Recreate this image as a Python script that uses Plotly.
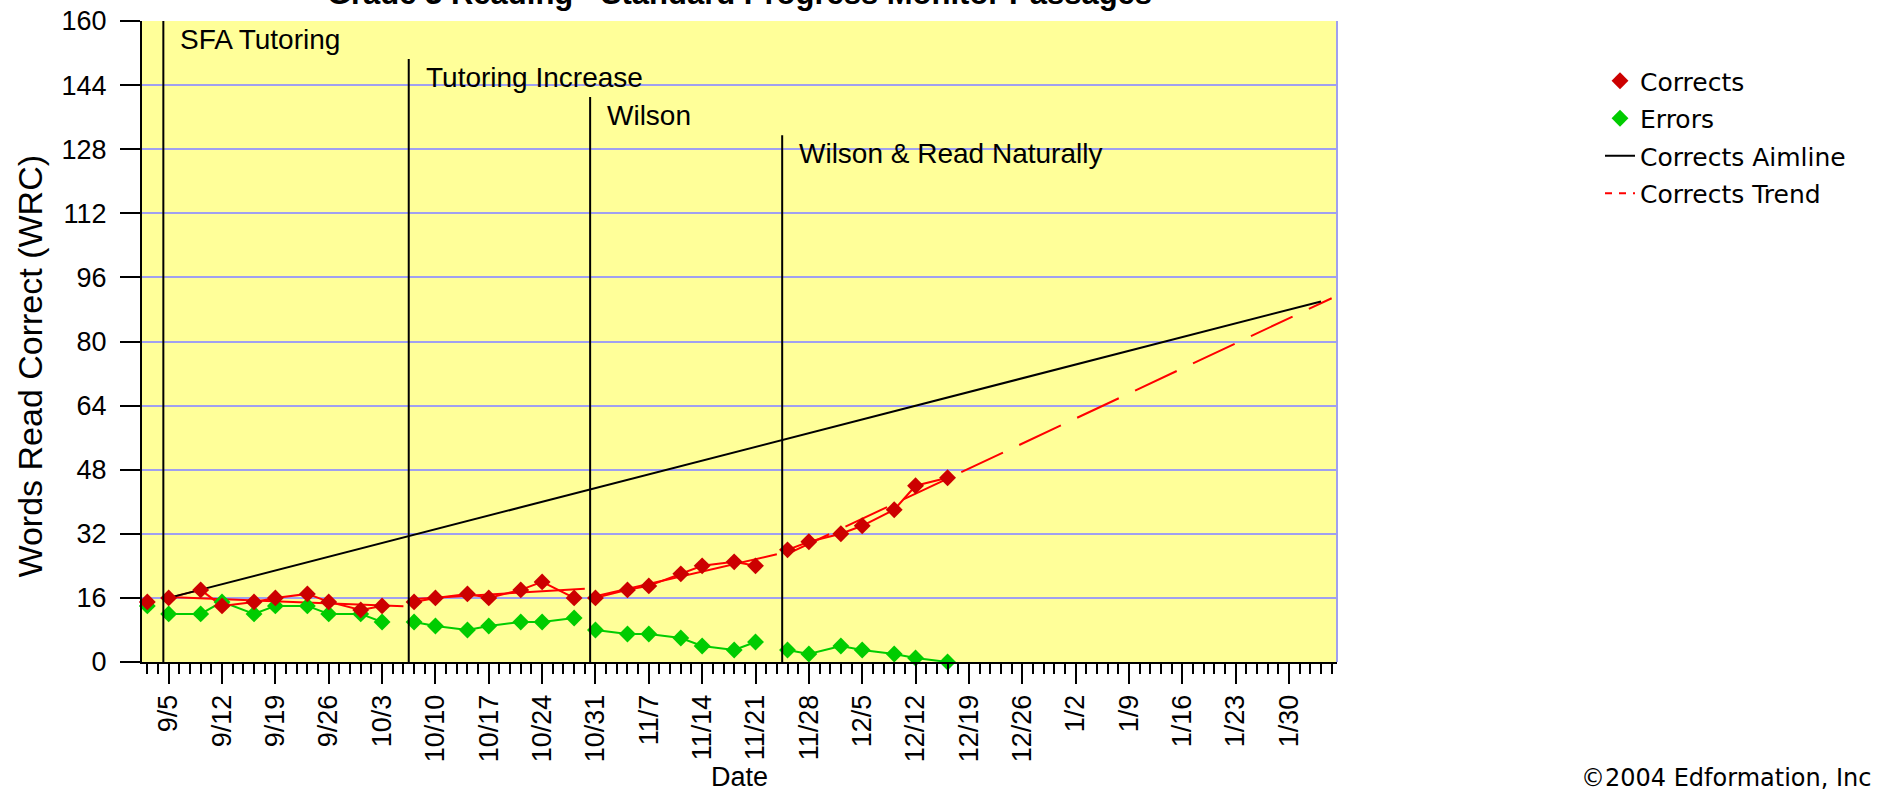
import pandas as pd
import plotly.graph_objects as go

# ---------------- data ----------------
title_text = "Grade 3 Reading - Standard Progress Monitor Passages"
y_title = "Words Read Correct (WRC)"
x_title = "Date"
copyright_text = "©2004 Edformation, Inc"

probe_dates = ["2005-09-01", "2005-09-05", "2005-09-08", "2005-09-12", "2005-09-15",
               "2005-09-19", "2005-09-22", "2005-09-26", "2005-09-29", "2005-10-03",
               "2005-10-06", "2005-10-10", "2005-10-13", "2005-10-17", "2005-10-20",
               "2005-10-24", "2005-10-27", "2005-10-31", "2005-11-03", "2005-11-07",
               "2005-11-10", "2005-11-14", "2005-11-17", "2005-11-21", "2005-11-24",
               "2005-11-28", "2005-12-01", "2005-12-05", "2005-12-08", "2005-12-12",
               "2005-12-15"]
corrects = [15, 16, 18, 14, 15, 16, 17, 15, 13, 14,
            15, 16, 17, 16, 18, 20, 16,
            16, 18, 19, 22, 24, 25, 24,
            28, 30, 32, 34, 38, 44, 46]
errors = [14, 12, 12, 15, 12, 14, 14, 12, 12, 10,
          10, 9, 8, 9, 10, 10, 11,
          8, 7, 7, 6, 4, 3, 5,
          3, 2, 4, 3, 2, 1, 0]

phase_names = ["SFA Tutoring", "Tutoring Increase", "Wilson", "Wilson & Read Naturally"]
phase_starts = ["2005-09-05", "2005-10-06", "2005-10-31", "2005-11-24"]
phase_line_tops = [160, 150.5, 141, 131.5]

aim_dates = ["2005-09-05", "2006-02-02"]
aim_values = [16, 90]

trend_start_dates = ["2005-09-05", "2005-10-06", "2005-10-31", "2005-11-24"]
trend_end_dates = ["2005-10-05", "2005-10-28", "2005-11-23", "2006-02-03"]
trend_start_values = [16.2, 15.7, 16.4, 27.0]
trend_end_values = [13.9, 18.3, 26.9, 90.8]

week_labels = ["9/5", "9/12", "9/19", "9/26", "10/3", "10/10", "10/17", "10/24",
               "10/31", "11/7", "11/14", "11/21", "11/28", "12/5", "12/12", "12/19",
               "12/26", "1/2", "1/9", "1/16", "1/23", "1/30"]
first_week = "2005-09-05"
axis_start, axis_end = "2005-09-01", "2006-02-03"

# ---------------- styles ----------------
RED_M = "#CC0000"
RED_L = "#FF0000"
GREEN = "#00CC00"
GRID = "#A0A0F0"
BG = "#FFFF99"
HALF = pd.Timedelta(hours=12)
ARIAL = "Arial, Liberation Sans, sans-serif"
SANS = "DejaVu Sans, Verdana, sans-serif"

dates = pd.to_datetime(pd.Series(probe_dates)) + HALF
starts = pd.to_datetime(pd.Series(phase_starts))

# phase index of each probe (-1 = baseline)
phase_idx = [int((starts <= d).sum()) - 1 for d in dates]

fig = go.Figure()

# connecting lines, split by phase
for p in sorted(set(phase_idx)):
    sel = [i for i, q in enumerate(phase_idx) if q == p]
    xs = [dates[i] for i in sel]
    fig.add_trace(go.Scatter(x=xs, y=[errors[i] for i in sel], mode="lines",
                             line=dict(color=GREEN, width=2), showlegend=False,
                             legendgroup="err", hoverinfo="skip"))
    fig.add_trace(go.Scatter(x=xs, y=[corrects[i] for i in sel], mode="lines",
                             line=dict(color=RED_L, width=2), showlegend=False,
                             legendgroup="cor", hoverinfo="skip"))

# phase trend lines
for k in range(len(trend_start_dates)):
    x0 = pd.Timestamp(trend_start_dates[k]) + HALF
    x1 = pd.Timestamp(trend_end_dates[k]) + HALF
    last = k == len(trend_start_dates) - 1
    fig.add_trace(go.Scatter(x=[x0, x1], y=[trend_start_values[k], trend_end_values[k]],
                             mode="lines", showlegend=False, legendgroup="trend",
                             line=dict(color=RED_L, width=2,
                                       dash="46px,18px" if last else "solid"),
                             hoverinfo="skip"))

# aimline
fig.add_trace(go.Scatter(x=pd.to_datetime(pd.Series(aim_dates)) + HALF, y=aim_values,
                         mode="lines", line=dict(color="black", width=2),
                         name="Corrects Aimline", legendgroup="aim", showlegend=False))

# markers
fig.add_trace(go.Scatter(x=dates, y=errors, mode="markers", name="Errors",
                         marker=dict(symbol="diamond", size=13, color=GREEN, line=dict(width=0)),
                         legendgroup="err", legendrank=2, cliponaxis=False))
fig.add_trace(go.Scatter(x=dates, y=corrects, mode="markers", name="Corrects",
                         marker=dict(symbol="diamond", size=13, color=RED_M, line=dict(width=0)),
                         legendgroup="cor", legendrank=1, cliponaxis=False))

# legend-only entries for lines
fig.add_trace(go.Scatter(x=[None], y=[None], mode="lines", name="Corrects Aimline",
                         line=dict(color="black", width=2), legendgroup="aim", legendrank=3))
fig.add_trace(go.Scatter(x=[None], y=[None], mode="lines", name="Corrects Trend",
                         line=dict(color=RED_L, width=2, dash="7px,7px"),
                         legendgroup="trend", legendrank=4))

# phase change lines + labels
for name, start, top in zip(phase_names, phase_starts, phase_line_tops):
    fig.add_shape(type="line", xref="x", yref="y", x0=start, x1=start, y0=0, y1=top,
                  line=dict(color="black", width=2), layer="above")
    fig.add_annotation(x=start, y=top, xref="x", yref="y", text=name, showarrow=False,
                       xanchor="left", yanchor="middle", xshift=15, yshift=-18,
                       font=dict(family=ARIAL, size=28, color="black"))

# right border of plot area
fig.add_shape(type="line", xref="paper", yref="paper", x0=1, x1=1, y0=0, y1=1,
              line=dict(color=GRID, width=2), layer="above")

# y axis title (placed lower than centre, as in the original)
fig.add_annotation(text=y_title, xref="paper", yref="paper", x=-0.094, y=0.462,
                   xanchor="center", yanchor="middle", textangle=-90, showarrow=False,
                   font=dict(family=ARIAL, size=34, color="black"))

# copyright note, kept fully inside the page
fig.add_annotation(text=copyright_text, xref="paper", yref="paper", x=1.2025, y=-0.181,
                   xanchor="left", yanchor="middle", showarrow=False,
                   font=dict(family=SANS, size=24, color="black"))

major_ticks = pd.date_range(first_week, periods=len(week_labels), freq="7D") + HALF
minor_ticks = pd.bdate_range(axis_start, axis_end) + HALF

fig.update_layout(
    width=1881, height=792,
    margin=dict(l=142, r=544, t=21, b=130, pad=0),
    paper_bgcolor="white", plot_bgcolor=BG,
    font=dict(family=ARIAL, size=27, color="black"),
    title=dict(text=title_text, xref="container", yref="container",
               x=739.5 / 1881, xanchor="center", y=1 - 4 / 792, yanchor="bottom",
               font=dict(family=ARIAL, size=31, color="black", weight="bold")),
    showlegend=True,
    legend=dict(xref="container", yref="container", x=1600 / 1881, y=1 - 58 / 792,
                xanchor="left", yanchor="top", traceorder="grouped", tracegroupgap=2,
                font=dict(family=SANS, size=25, color="black"),
                bgcolor="rgba(0,0,0,0)", itemsizing="trace"),
    xaxis=dict(type="date", range=[pd.Timestamp(axis_start), pd.Timestamp(axis_end) + pd.Timedelta(hours=23, minutes=59)],
               rangebreaks=[dict(bounds=["sat", "mon"])],
               tickmode="array", tickvals=major_ticks, ticktext=week_labels,
               tickangle=-90, ticks="outside", ticklen=20, tickwidth=2, tickcolor="black",
               tickfont=dict(family=ARIAL, size=27),
               minor=dict(tickvals=minor_ticks, ticks="outside", ticklen=10,
                          tickwidth=2, tickcolor="black", showgrid=False),
               showline=True, linecolor="black", linewidth=2, showgrid=False,
               zeroline=False, automargin=False,
               title=dict(text=x_title, standoff=6, font=dict(family=ARIAL, size=27))),
    yaxis=dict(range=[0, 160], tickmode="linear", tick0=0, dtick=16,
               ticks="outside", ticklen=20, tickwidth=2, tickcolor="black",
               ticklabelstandoff=8, tickfont=dict(family=ARIAL, size=27),
               showline=True, linecolor="black", linewidth=2,
               showgrid=True, gridcolor=GRID, gridwidth=2, zeroline=False,
               automargin=False),
)

fig.write_html("out.html", config={"displayModeBar": False},
               post_script="document.body.style.margin='0';")
